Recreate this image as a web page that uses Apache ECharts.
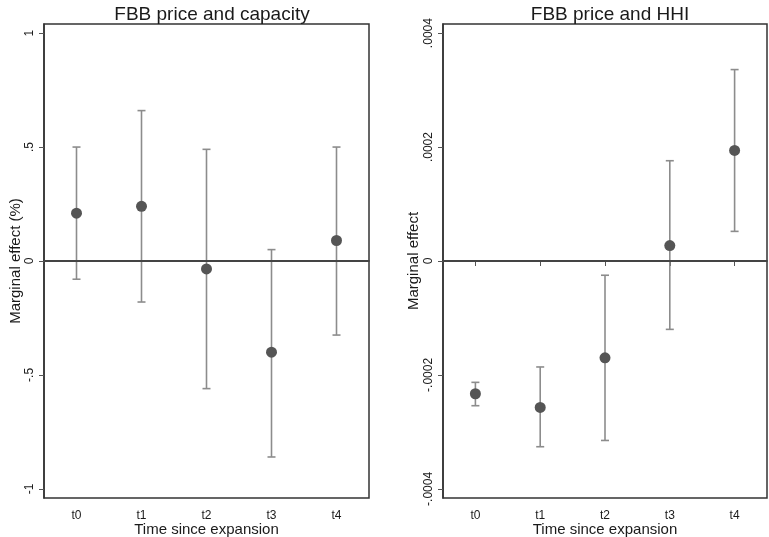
<!DOCTYPE html>
<html>
<head>
<meta charset="utf-8">
<script src="https://cdn.jsdelivr.net/npm/echarts@6/dist/echarts.min.js"></script>
<style>
html,body{margin:0;padding:0;background:#fff;}
#chart{width:769px;height:537px;}
</style>
</head>
<body>
<div id="chart"></div>
<script>
// ---- data ----
var categories = ['t0', 't1', 't2', 't3', 't4'];
var capPoint = [0.21, 0.24, -0.035, -0.40, 0.09];
var capLow   = [-0.08, -0.18, -0.56, -0.86, -0.325];
var capHigh  = [0.50, 0.66, 0.49, 0.05, 0.50];
var hhiPoint = [-0.000233, -0.000257, -0.000170, 0.000027, 0.000194];
var hhiLow   = [-0.000254, -0.000326, -0.000315, -0.000120, 0.000052];
var hhiHigh  = [-0.000213, -0.000186, -0.000025, 0.000176, 0.000336];
var capTicks = [-1, -0.5, 0, 0.5, 1];
var hhiTicks = [-0.0004, -0.0002, 0, 0.0002, 0.0004];
var titles = ['FBB price and capacity', 'FBB price and HHI'];
var yNames = ['Marginal effect (%)', 'Marginal effect'];
var xName = 'Time since expansion';

// ---- helpers ----
var FONT = '"Liberation Sans", Arial, sans-serif';
function fmt(v) {
  if (Math.abs(v) < 1e-12) return '0';
  var s = String(+v.toPrecision(6));
  return s.replace(/^(-?)0\./, '$1.');
}
function errData(lo, hi) {
  return lo.map(function (l, i) { return [i, l, hi[i]]; });
}
function renderErr(params, api) {
  var x = api.value(0);
  var p1 = api.coord([x, api.value(1)]);
  var p2 = api.coord([x, api.value(2)]);
  var hw = 4;
  var st = { stroke: '#8c8c8c', lineWidth: 1.6 };
  return {
    type: 'group',
    children: [
      { type: 'line', shape: { x1: p1[0], y1: p1[1], x2: p2[0], y2: p2[1] }, style: st },
      { type: 'line', shape: { x1: p1[0] - hw, y1: p1[1], x2: p1[0] + hw, y2: p1[1] }, style: st },
      { type: 'line', shape: { x1: p2[0] - hw, y1: p2[1], x2: p2[0] + hw, y2: p2[1] }, style: st }
    ]
  };
}
function xAxisCfg(gi) {
  return {
    type: 'category', gridIndex: gi, data: categories,
    boundaryGap: true,
    axisLine: { show: true, lineStyle: { color: '#333', width: 1.5 } },
    axisTick: { show: true, alignWithLabel: true, length: 5, lineStyle: { color: '#555' } },
    axisLabel: { color: '#1a1a1a', fontSize: 12, fontFamily: FONT, margin: 12 },
    name: xName, nameLocation: 'middle', nameGap: 24, nameMoveOverlap: false,
    nameTextStyle: { color: '#1a1a1a', fontSize: 15, fontFamily: FONT },
    splitLine: { show: false }
  };
}
function yAxisCfg(gi, lim, ticks, name, gap) {
  return {
    type: 'value', gridIndex: gi, min: -lim, max: lim,
    axisLine: { show: true, lineStyle: { color: '#333', width: 1.5 } },
    axisTick: { show: true, length: 5, customValues: ticks, lineStyle: { color: '#555' } },
    axisLabel: { color: '#1a1a1a', fontSize: 12, fontFamily: FONT, rotate: 90, margin: 8,
                 customValues: ticks, formatter: fmt },
    splitLine: { show: false },
    name: name, nameLocation: 'middle', nameRotate: 90, nameGap: gap, nameMoveOverlap: false,
    nameTextStyle: { color: '#1a1a1a', fontSize: 15, fontFamily: FONT }
  };
}
var zeroLine = {
  silent: true, symbol: ['none', 'none'],
  label: { show: false },
  lineStyle: { color: '#444', width: 2, type: 'solid' },
  data: [{ yAxis: 0 }]
};

var chart = echarts.init(document.getElementById('chart'), null, { renderer: 'canvas' });
chart.setOption({
  animation: false,
  backgroundColor: '#fff',
  title: [
    { text: titles[0], left: 207, top: 0, textAlign: 'center',
      textStyle: { fontSize: 19, fontWeight: 'normal', color: '#1a1a1a', fontFamily: FONT } },
    { text: titles[1], left: 605, top: 0, textAlign: 'center',
      textStyle: { fontSize: 19, fontWeight: 'normal', color: '#1a1a1a', fontFamily: FONT } }
  ],
  grid: [
    { left: 44, top: 24, width: 325, height: 474, show: true, borderColor: '#333', borderWidth: 1.5,
      backgroundColor: '#fff', containLabel: false, outerBoundsMode: 'none' },
    { left: 443, top: 24, width: 324, height: 474, show: true, borderColor: '#333', borderWidth: 1.5,
      backgroundColor: '#fff', containLabel: false, outerBoundsMode: 'none' }
  ],
  xAxis: [xAxisCfg(0), xAxisCfg(1)],
  yAxis: [
    yAxisCfg(0, 1.04, capTicks, yNames[0], 21),
    yAxisCfg(1, 0.000416, hhiTicks, yNames[1], 22)
  ],
  series: [
    { type: 'custom', xAxisIndex: 0, yAxisIndex: 0, renderItem: renderErr,
      data: errData(capLow, capHigh), encode: { x: 0, y: [1, 2] }, z: 2 },
    { type: 'scatter', xAxisIndex: 0, yAxisIndex: 0, data: capPoint,
      symbol: 'circle', symbolSize: 11, itemStyle: { color: '#555', opacity: 1 }, z: 3,
      markLine: zeroLine },
    { type: 'custom', xAxisIndex: 1, yAxisIndex: 1, renderItem: renderErr,
      data: errData(hhiLow, hhiHigh), encode: { x: 0, y: [1, 2] }, z: 2 },
    { type: 'scatter', xAxisIndex: 1, yAxisIndex: 1, data: hhiPoint,
      symbol: 'circle', symbolSize: 11, itemStyle: { color: '#555', opacity: 1 }, z: 3,
      markLine: zeroLine }
  ]
});
</script>
</body>
</html>
